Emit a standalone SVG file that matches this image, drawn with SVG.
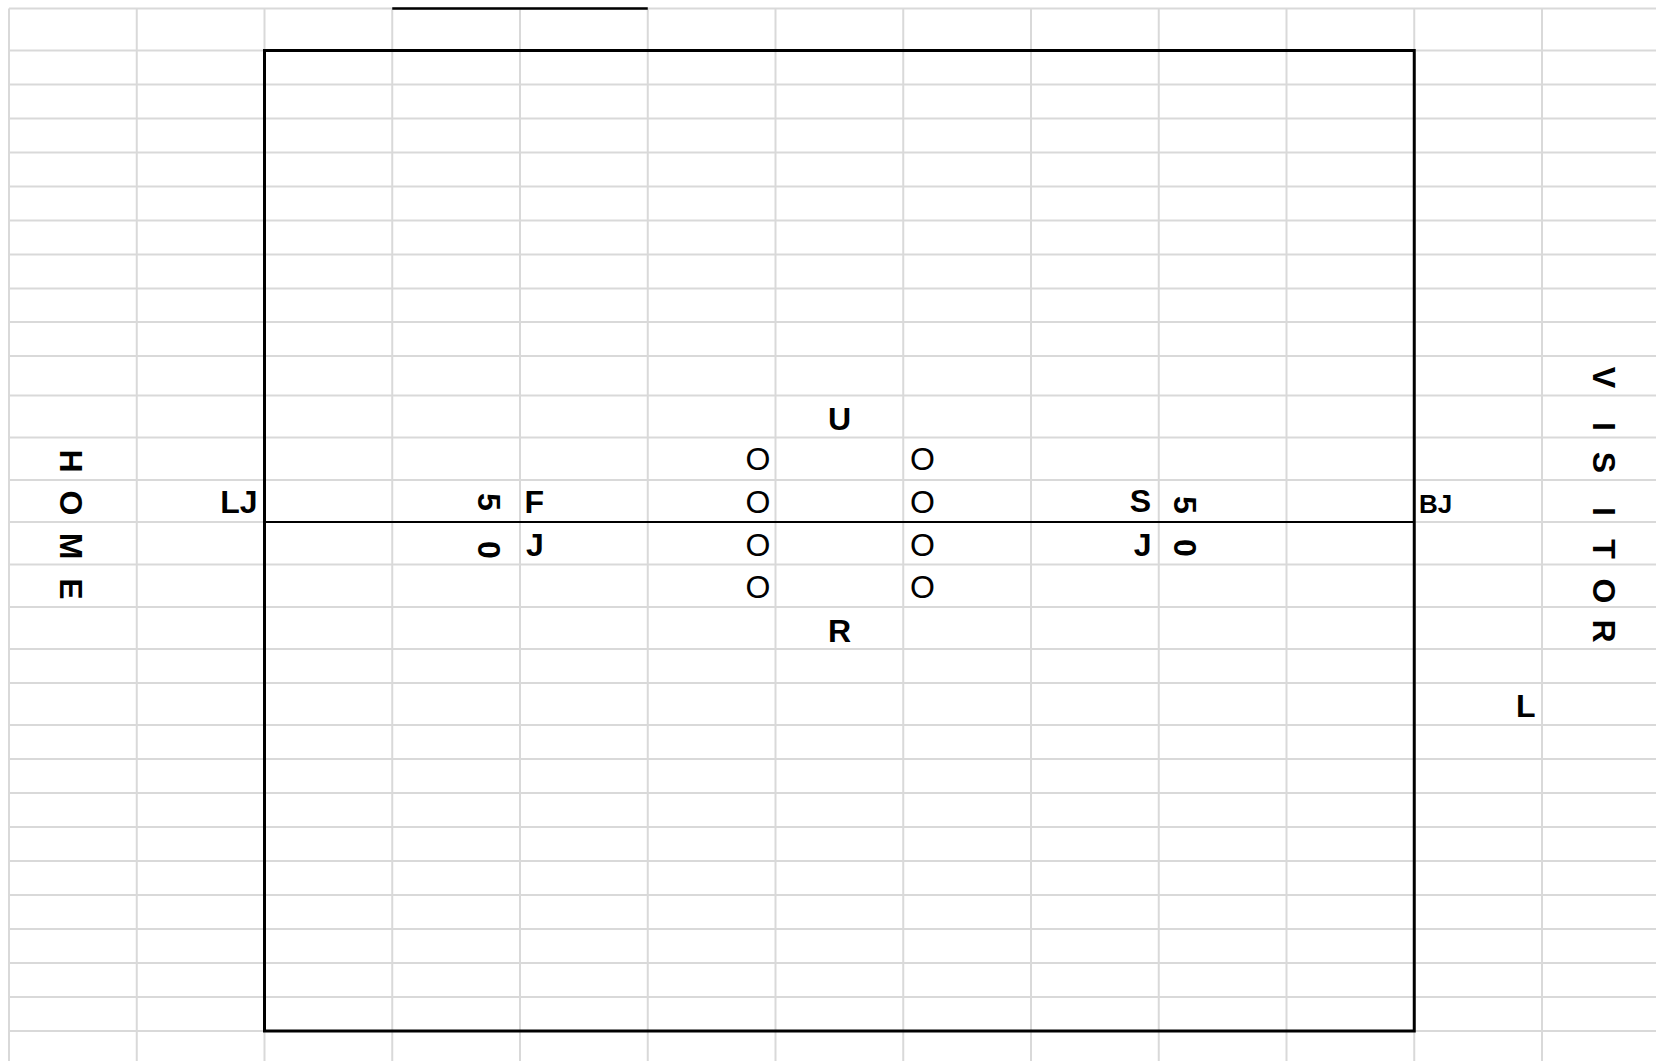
<svg xmlns="http://www.w3.org/2000/svg" width="1656" height="1061" viewBox="0 0 1656 1061">
<defs>
<style>
.g{stroke:#d9d9d9;stroke-width:2;fill:none}
.b{stroke:#000;fill:none}
.t{font-family:"Liberation Sans",Arial,sans-serif;font-size:32px;font-weight:bold;fill:#000}
.o{font-family:"Liberation Sans",Arial,sans-serif;font-size:32px;font-weight:normal;fill:#000}
.s{font-family:"Liberation Sans",Arial,sans-serif;font-size:26px;font-weight:bold;fill:#000}
</style>
</defs>
<rect width="1656" height="1061" fill="#fff"/>
<g id="grid">
<path class="g" d="M9 8.5V1061M136.75 8.5V1061M264.5 8.5V1061M392.25 8.5V1061M520 8.5V1061M647.75 8.5V1061M775.5 8.5V1061M903.25 8.5V1061M1031 8.5V1061M1158.75 8.5V1061M1286.5 8.5V1061M1414.25 8.5V1061M1542 8.5V1061"/>
<path class="g" d="M9 8.5H1656M9 50.5H1656M9 84.5H1656M9 118.5H1656M9 152.5H1656M9 186.5H1656M9 220.5H1656M9 254.5H1656M9 288.5H1656M9 322H1656M9 356H1656M9 395.5H1656M9 437.5H1656M9 480H1656M9 522H1656M9 564.5H1656M9 607H1656M9 649H1656M9 683H1656M9 725H1656M9 759H1656M9 793H1656M9 827H1656M9 861H1656M9 895H1656M9 929H1656M9 963H1656M9 997H1656M9 1031H1656"/>
</g>
<g id="field">
<path class="b" stroke-width="2.5" d="M392.25 8.5H647.75"/>
<rect class="b" stroke-width="3" x="264.5" y="50.5" width="1149.75" height="980.5"/>
<path class="b" stroke-width="2" d="M264.5 522H1414.25"/>
</g>
<g id="home">
<text class="t" text-anchor="middle" transform="translate(60,461) rotate(90)">H</text>
<text class="t" text-anchor="middle" transform="translate(60,503) rotate(90)">O</text>
<text class="t" text-anchor="middle" transform="translate(60,546) rotate(90)">M</text>
<text class="t" text-anchor="middle" transform="translate(60,589) rotate(90)">E</text>
</g>
<g id="visitor">
<text class="t" text-anchor="middle" transform="translate(1593,377.5) rotate(90)">V</text>
<text class="t" text-anchor="middle" transform="translate(1593,426.5) rotate(90)">I</text>
<text class="t" text-anchor="middle" transform="translate(1593,462.5) rotate(90)">S</text>
<text class="t" text-anchor="middle" transform="translate(1593,511.5) rotate(90)">I</text>
<text class="t" text-anchor="middle" transform="translate(1593,549) rotate(90)">T</text>
<text class="t" text-anchor="middle" transform="translate(1593,591) rotate(90)">O</text>
<text class="t" text-anchor="middle" transform="translate(1593,631) rotate(90)">R</text>
</g>
<g id="lj"><text class="t" text-anchor="end" x="257.5" y="513">LJ</text></g>
<g id="yard50-left">
<text class="t" text-anchor="middle" transform="translate(478,502) rotate(90)">5</text>
<text class="t" text-anchor="middle" transform="translate(478,550) rotate(90)">0</text>
</g>
<g id="f"><text class="t" x="524.5" y="513">F</text></g>
<g id="j-left"><text class="t" x="526" y="556">J</text></g>
<g id="u"><text class="t" text-anchor="middle" x="839.5" y="430">U</text></g>
<g id="r"><text class="t" text-anchor="middle" x="839.5" y="641.5">R</text></g>
<g id="line-left">
<text class="o" text-anchor="end" x="770.5" y="470">O</text>
<text class="o" text-anchor="end" x="770.5" y="512.5">O</text>
<text class="o" text-anchor="end" x="770.5" y="556">O</text>
<text class="o" text-anchor="end" x="770.5" y="598">O</text>
</g>
<g id="line-right">
<text class="o" x="910" y="470">O</text>
<text class="o" x="910" y="512.5">O</text>
<text class="o" x="910" y="556">O</text>
<text class="o" x="910" y="598">O</text>
</g>
<g id="s"><text class="t" text-anchor="end" x="1151" y="512">S</text></g>
<g id="j-right"><text class="t" text-anchor="end" x="1151.5" y="556">J</text></g>
<g id="yard50-right">
<text class="t" text-anchor="middle" transform="translate(1174,505) rotate(90)">5</text>
<text class="t" text-anchor="middle" transform="translate(1174,548) rotate(90)">0</text>
</g>
<g id="bj"><text class="s" x="1419" y="513">BJ</text></g>
<g id="l"><text class="t" text-anchor="end" x="1535.5" y="717">L</text></g>
</svg>
